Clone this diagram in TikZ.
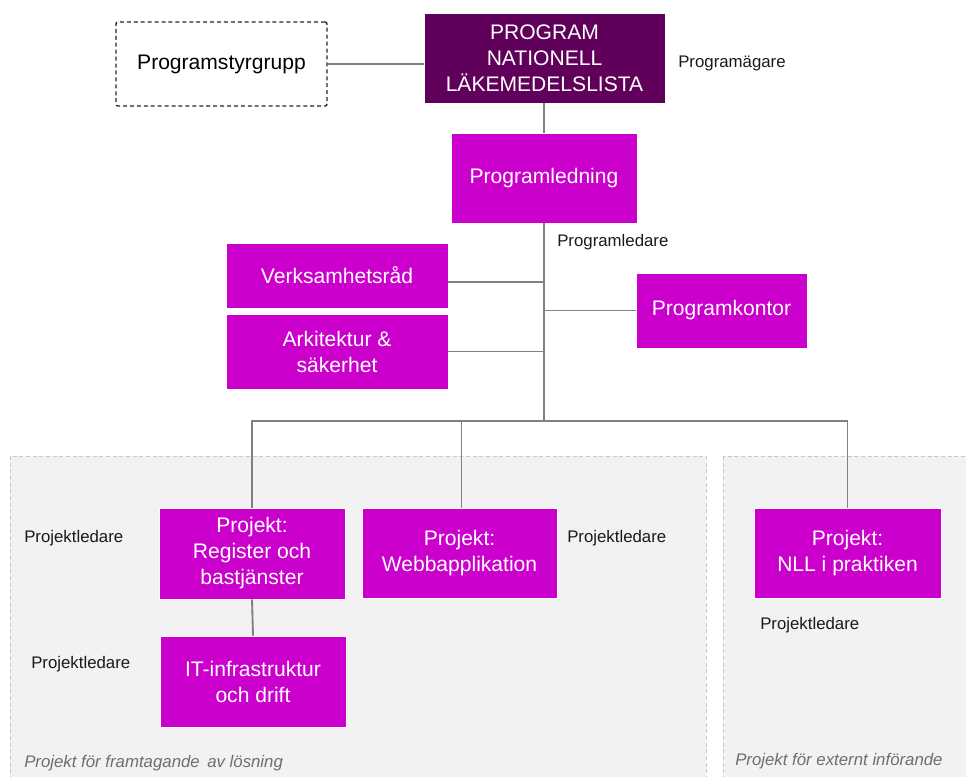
\documentclass[tikz,border=0pt]{standalone}
\usepackage{fontspec}
\setmainfont{Liberation Sans}
\definecolor{mag}{RGB}{204,0,204}
\definecolor{dpurp}{RGB}{96,0,90}
\definecolor{conn}{RGB}{128,128,128}
\definecolor{regfill}{RGB}{242,242,242}
\definecolor{regline}{RGB}{200,200,200}
\definecolor{lbl}{RGB}{26,26,26}
\definecolor{ital}{RGB}{110,110,110}
\tikzset{
  box/.style={fill=mag, draw=white, line width=0.4pt, text=white, align=center, inner sep=0pt,
    font=\fontsize{15.8}{19.5}\selectfont},
  topbox/.style={box, fill=dpurp},
  ctrlbox/.style={draw=black!85, dashed, dash pattern=on 3pt off 2.2pt, line width=1.1pt, rounded corners=1.5pt,
    align=center, inner sep=0pt, text=black, font=\fontsize{15.8}{19.5}\selectfont},
  conline/.style={draw=conn, line width=1.4pt},
  role/.style={anchor=west, inner sep=0pt, text=lbl, font=\fontsize{12.6}{15}\selectfont},
  regtitle/.style={anchor=west, inner sep=0pt, text=ital, font=\fontsize{12.6}{15}\selectfont\itshape},
  region/.style={fill=regfill, draw=regline, dashed, dash pattern=on 3pt off 2pt, line width=0.6pt}
}
\begin{document}
\begin{tikzpicture}[x=0.75pt,y=-0.75pt]
\useasboundingbox (0,0) rectangle (966,776);
% regions
\path[region] (10,456) rectangle (706,790);
\path[region] (723,456) rectangle (980,790);
% nodes
\node[ctrlbox, minimum width=158.25pt, minimum height=63pt] (psg) at (221.5,64) {Programstyrgrupp};
\node[topbox, minimum width=180.75pt, minimum height=67.5pt] (prog) at (544.5,58) {PROGRAM\\NATIONELL\\LÄKEMEDELSLISTA};
\node[box, minimum width=139.5pt, minimum height=67.5pt] (pled) at (544,178) {Programledning};
\node[box, minimum width=166.5pt, minimum height=48.75pt] (verk) at (337,275.5) {Verksamhetsråd};
\node[box, minimum width=166.5pt, minimum height=56.25pt] (ark) at (337,351.5) {Arkitektur \&\\säkerhet};
\node[box, minimum width=128.25pt, minimum height=56.25pt] (pkont) at (721.5,310.5) {Programkontor};
\node[box, minimum width=139.5pt, minimum height=68.25pt] (reg) at (252,553.5) {Projekt:\\Register och\\bastjänster};
\node[box, minimum width=146.25pt, minimum height=67.5pt] (webb) at (459.5,553) {Projekt:\\Webbapplikation};
\node[box, minimum width=139.5pt, minimum height=68.25pt] (it) at (253,681.5) {IT-infrastruktur\\och drift};
\node[box, minimum width=140.25pt, minimum height=67.5pt] (nll) at (847.5,553) {Projekt:\\NLL i praktiken};
% junctions
\coordinate (j) at (544,421);
\coordinate (tv) at (544,282);
\coordinate (tp) at (544,64);
% labels
\node[role] (l1) at (678,63) {Programägare};
\node[role] (l2) at (557,242) {Programledare};
\node[role] (l3) at (24,538) {Projektledare};
\node[role] (l4) at (567,538) {Projektledare};
\node[role] (l5) at (31,664) {Projektledare};
\node[role] (l6) at (760,625) {Projektledare};
\node[regtitle] (r1) at (24,763) {Projekt för framtagande\, av lösning};
\node[regtitle] (r2) at (735,761) {Projekt för externt införande};
% connectors
\draw[conline] (psg.east |- tp) -- (prog.west |- tp);
\draw[conline] (prog.south -| pled.north) -- (pled.north);
\draw[conline] (pled.south) -- (j);
\draw[conline] (verk.east |- tv) -- (tv);
\draw[conline] (ark.east) -- (ark.east -| j);
\draw[conline] (pkont.west) -- (pkont.west -| j);
\draw[conline] (reg.north) -- (reg.north |- j) -- (nll.north |- j) -- (nll.north);
\draw[conline] ([xshift=1.5]webb.north) -- ([xshift=1.5]webb.north |- j);
\draw[conline] (reg.south) -- (it.north);
\end{tikzpicture}
\end{document}
